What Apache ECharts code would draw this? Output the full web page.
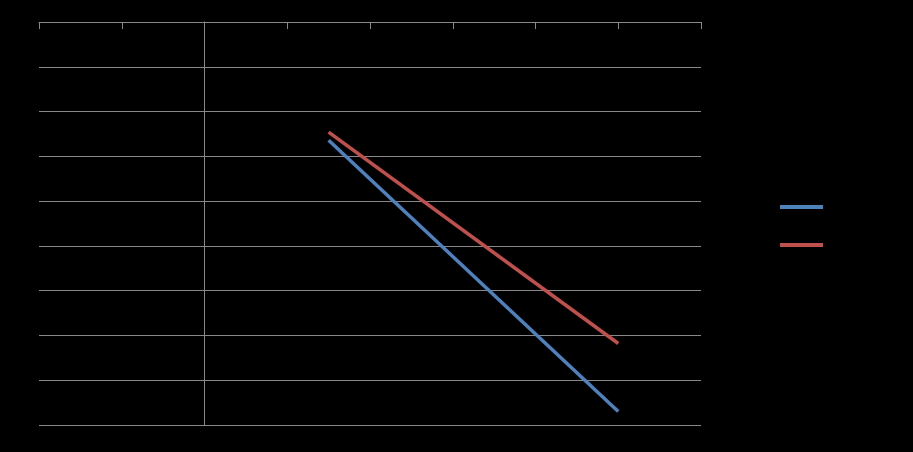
<!DOCTYPE html>
<html>
<head>
<meta charset="utf-8">
<script src="https://cdn.jsdelivr.net/npm/echarts@6/dist/echarts.min.js"></script>
<style>
html,body{margin:0;padding:0;background:#000;}
#c{width:913px;height:452px;}
</style>
</head>
<body>
<div id="c"></div>
<script>
const seriesNames = ["Series1", "Series2"];
const xValues = [1.5, 5];
const series1 = [-2.64, -8.7];
const series2 = [-2.46, -7.18];

const chart = echarts.init(document.getElementById('c'));
chart.setOption({
  backgroundColor: '#000000',
  animation: false,
  textStyle: { fontFamily: 'Liberation Sans', color: '#000' },
  grid: { left: 39, right: 212, top: 22, bottom: 27 },
  legend: {
    orient: 'vertical', left: 775, top: 196, itemGap: 26,
    itemWidth: 43, itemHeight: 4, icon: 'rect',
    textStyle: { color: '#000', fontSize: 12 },
    data: seriesNames
  },
  xAxis: {
    type: 'value', min: -2, max: 6, interval: 1, position: 'top',
    axisLine: { onZero: true, lineStyle: { color: '#888', width: 1 } },
    axisTick: { show: true, inside: true, length: 7, lineStyle: { color: '#888' } },
    axisLabel: { color: '#000', fontSize: 11 },
    splitLine: { show: false }
  },
  yAxis: {
    type: 'value', min: -9, max: 0, interval: 1,
    axisLine: { show: true, onZero: true, lineStyle: { color: '#888', width: 1 } },
    axisTick: { show: false },
    axisLabel: { color: '#000', fontSize: 11 },
    splitLine: { show: true, lineStyle: { color: '#888', width: 1 } }
  },
  series: [
    { name: seriesNames[0], type: 'line', showSymbol: false, symbol: 'none',
      data: xValues.map((x, i) => [x, series1[i]]),
      lineStyle: { color: '#4F81BD', width: 3.5 }, itemStyle: { color: '#4F81BD' } },
    { name: seriesNames[1], type: 'line', showSymbol: false, symbol: 'none',
      data: xValues.map((x, i) => [x, series2[i]]),
      lineStyle: { color: '#C0504D', width: 3.5 }, itemStyle: { color: '#C0504D' } }
  ]
});
</script>
</body>
</html>
